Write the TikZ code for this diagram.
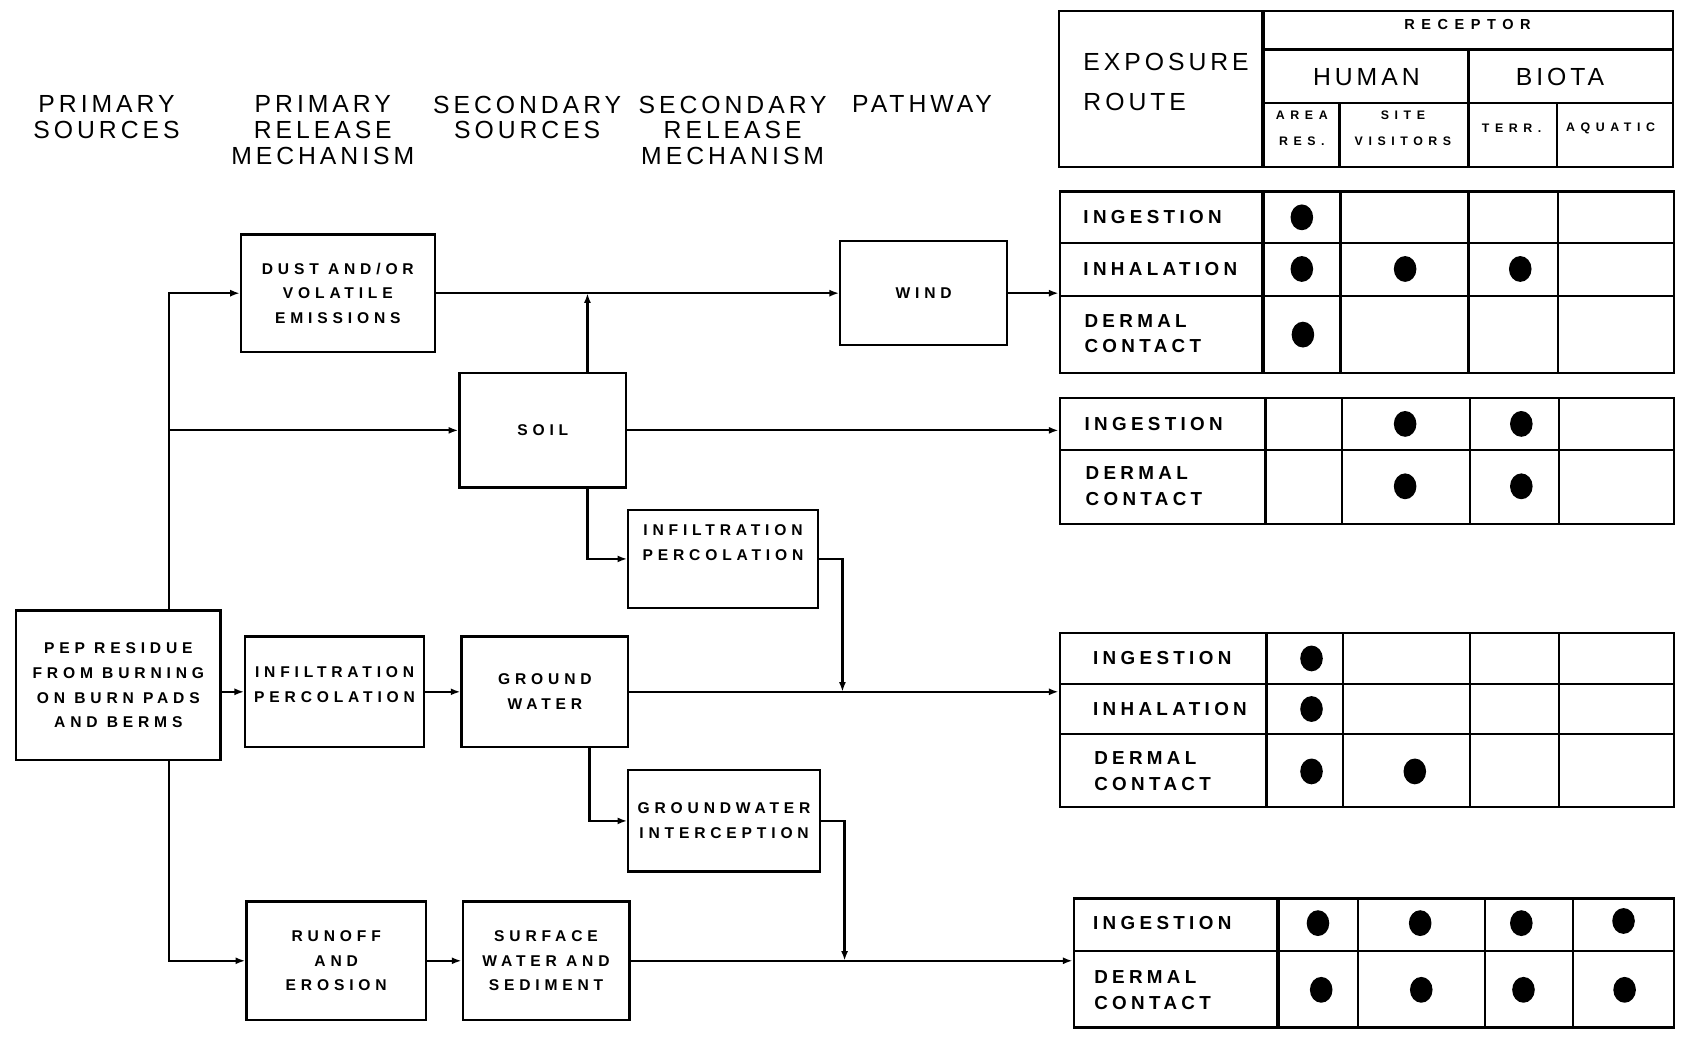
\documentclass[tikz,border=0pt]{standalone}
\usepackage{fontspec}
\usepackage{tikz}
\usetikzlibrary{positioning, arrows.meta, calc}
\newfontfamily\headfont[LetterSpace=16]{Liberation Sans}
\newfontfamily\boxfont[LetterSpace=31]{Liberation Sans}
\newfontfamily\routefont[LetterSpace=23]{Liberation Sans}
\newfontfamily\smallfont[LetterSpace=45]{Liberation Sans}

\begin{document}
\begin{tikzpicture}[
    x=1pt, y=-1pt,
    line width=2.1pt,
    box/.style={draw, rectangle, align=center, inner sep=0pt, font=\boxfont\bfseries\fontsize{14.5}{23}\selectfont},
    head/.style={anchor=north, align=center, inner sep=0pt, font=\headfont\fontsize{23}{24}\selectfont},
    bighead/.style={inner sep=0pt, font=\headfont\fontsize{23}{24}\selectfont},
    route/.style={anchor=west, align=left, inner sep=0pt, font=\routefont\bfseries\fontsize{17.5}{24}\selectfont},
    small/.style={align=center, inner sep=0pt, font=\smallfont\bfseries\fontsize{11.5}{24}\selectfont},
    tab/.style={draw, rectangle, inner sep=0pt},
    sep/.style={line width=3.2pt},
    arr/.style={-{Latex[length=9pt,width=6.5pt]}}
]
    \useasboundingbox (0,0) rectangle (1568,964);

    % --- Column headings ---
    \node[head] (hps) at (99,88) {PRIMARY\\SOURCES};
    \node[head] (hprm) at (300,88) {PRIMARY\\RELEASE\\MECHANISM};
    \node[head] (hss) at (490,88) {SECONDARY\\SOURCES};
    \node[head] (hsrm) at (681,88) {SECONDARY\\RELEASE\\MECHANISM};
    \node[head] (hpath) at (857,88) {PATHWAY};

    % --- Receptor heading table ---
    \node[tab, minimum width=571pt, minimum height=145pt] (rcp) at (1269.5,82.5) {};
    \draw[sep] (1174,10) -- (1174,155);
    \draw (1174,46) -- (1555,46);
    \draw (1174,96) -- (1555,96);
    \draw (1365,46) -- (1365,155);
    \draw (1245,96) -- (1245,155);
    \draw (1447,96) -- (1447,155);
    \node[anchor=west, align=left, inner sep=0pt, font=\headfont\fontsize{23}{37}\selectfont] (exproute) at (1006,76.5) {EXPOSURE\\ROUTE};
    \node[small, font=\smallfont\bfseries\fontsize{13.5}{24}\selectfont] (receptor) at (1364,23) {RECEPTOR};
    \node[bighead] (human) at (1270,72) {HUMAN};
    \node[bighead] (biota) at (1450,72) {BIOTA};
    \node[small] (areares) at (1210,119) {AREA\\RES.};
    \node[small] (sitevis) at (1304,119) {SITE\\VISITORS};
    \node[small] (terr) at (1405,119) {TERR.};
    \node[small] (aquatic) at (1497,119) {AQUATIC};

    % --- Sources and mechanisms ---
    \node[box, minimum width=190pt, minimum height=139pt] (pep) at (110,637) {PEP RESIDUE\\FROM BURNING\\ON BURN PADS\\AND BERMS};
    \node[box, minimum width=180pt, minimum height=109pt] (dust) at (314,272.5) {DUST AND/OR\\VOLATILE\\EMISSIONS};
    \node[box, minimum width=166pt, minimum height=103pt] (infA) at (311,643) {INFILTRATION\\PERCOLATION\\[-17pt]\strut};
    \node[box, minimum width=167pt, minimum height=110pt] (runoff) at (312.5,893) {RUNOFF\\AND\\EROSION};
    \node[box, minimum width=155pt, minimum height=106pt] (soil) at (504.5,400) {SOIL};
    \node[box, minimum width=155pt, minimum height=103pt] (gw) at (506.5,643) {GROUND\\WATER};
    \node[box, minimum width=155pt, minimum height=110pt] (surf) at (507.5,893) {SURFACE\\WATER AND\\SEDIMENT};
    \node[box, minimum width=176pt, minimum height=91pt] (infB) at (672,519.5) {INFILTRATION\\PERCOLATION\\\strut};
    \node[box, minimum width=178pt, minimum height=94pt] (gwi) at (673,763) {GROUNDWATER\\INTERCEPTION};
    \node[box, minimum width=155pt, minimum height=97pt] (wind) at (858.5,272.5) {WIND};

    % --- Exposure route tables ---
    % Table A (wind)
    \node[tab, minimum width=571pt, minimum height=169pt] (tabA) at (1270.5,262.5) {};
    \draw (985,226) -- (1556,226);
    \draw (985,275) -- (1556,275);
    \draw[sep] (1174,178) -- (1174,347);
    \foreach \cx in {1246,1365,1448} \draw (\cx,178) -- (\cx,347);
    \node[route] (ingA) at (1006,202) {INGESTION};
    \node[route] (inhA) at (1006,250) {INHALATION};
    \node[route] (derA) at (1007,310) {DERMAL\\CONTACT};

    % Table B (soil)
    \node[tab, minimum width=571pt, minimum height=117pt] (tabB) at (1270.5,428.5) {};
    \draw (985,418) -- (1556,418);
    \draw[sep] (1176,370) -- (1176,487);
    \foreach \cx in {1247,1366,1449} \draw (\cx,370) -- (\cx,487);
    \node[route] (ingB) at (1007,394) {INGESTION};
    \node[route] (derB) at (1008,451.5) {DERMAL\\CONTACT};

    % Table C (ground water)
    \node[tab, minimum width=571pt, minimum height=162pt] (tabC) at (1270.5,669) {};
    \draw (985,636) -- (1556,636);
    \draw (985,682) -- (1556,682);
    \draw[sep] (1177,588) -- (1177,750);
    \foreach \cx in {1248,1366,1449} \draw (\cx,588) -- (\cx,750);
    \node[route] (ingC) at (1015,612) {INGESTION};
    \node[route] (inhC) at (1015,659) {INHALATION};
    \node[route] (derC) at (1016,717) {DERMAL\\CONTACT};

    % Table D (surface water)
    \node[tab, minimum width=558pt, minimum height=120pt] (tabD) at (1277,895) {};
    \draw (998,884) -- (1556,884);
    \draw[sep] (1188,835) -- (1188,955);
    \foreach \cx in {1262,1380,1462} \draw (\cx,835) -- (\cx,955);
    \node[route] (ingD) at (1015,858) {INGESTION};
    \node[route] (derD) at (1016,920) {DERMAL\\CONTACT};

    % Dots
    \foreach \px/\py in {1210/202, 1210/250, 1306/250, 1413/250, 1211/311,
                         1306/394, 1414/394, 1306/452, 1414/452,
                         1219/612, 1219/659, 1219/717, 1315/717,
                         1225/858, 1320/858, 1414/858, 1509/856,
                         1228/920, 1321/920, 1416/920, 1510/920}
        \fill (\px,\py) ellipse (10.5pt and 12pt);

    % --- Connections ---
    \coordinate (trunk) at (157,0);
    \coordinate (soilx) at (546,0);
    \coordinate (gwx) at (548,0);
    \coordinate (dropA) at (783,0);
    \coordinate (dropB) at (785,0);

    \draw[arr] (pep.north -| trunk) |- (dust.west);
    \draw[arr] (trunk |- soil.west) -- (soil.west);
    \draw[arr] (pep.south -| trunk) |- (runoff.west);
    \draw[arr] (pep.east |- infA.west) -- (infA.west);
    \draw[arr] (infA) -- (gw);
    \draw[arr] (runoff) -- (surf);
    \draw[arr] (dust) -- (wind);
    \draw[arr] (soil.north -| soilx) -- (soilx |- dust.east);
    \draw[arr] (soil.south -| soilx) |- (infB.west);
    \draw[arr] (gw.south -| gwx) |- (gwi.west);
    \draw[arr] (infB.east) -| (dropA |- gw.east);
    \draw[arr] (gwi.east) -| (dropB |- surf.east);
    \draw[arr] (wind) -- (wind -| tabA.west);
    \draw[arr] (soil) -- (soil -| tabB.west);
    \draw[arr] (gw) -- (gw -| tabC.west);
    \draw[arr] (surf) -- (surf -| tabD.west);

\end{tikzpicture}
\end{document}
